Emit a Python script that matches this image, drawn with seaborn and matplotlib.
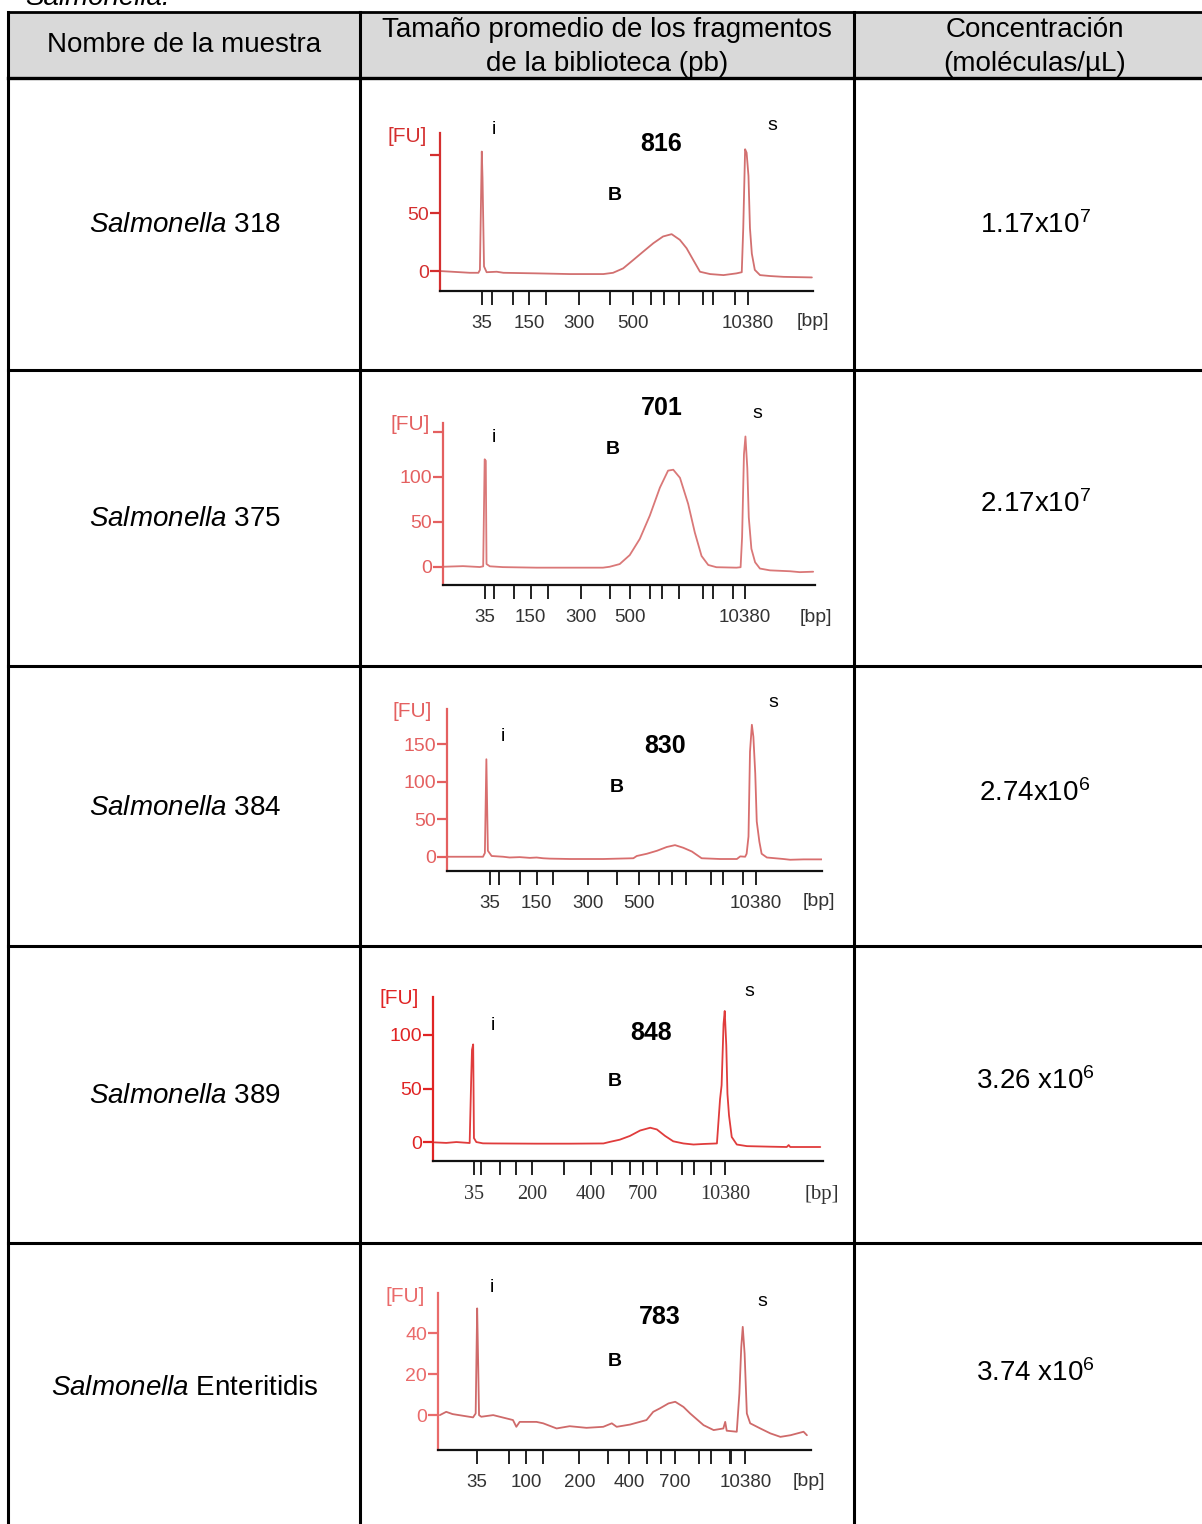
import matplotlib
matplotlib.use("Agg")
import matplotlib.pyplot as plt
import seaborn as sns
from matplotlib.lines import Line2D
from matplotlib.patches import Rectangle

# Datos de la tabla
sample_ids = ["318", "375", "384", "389", "Enteritidis"]
avg_sizes = ["816", "701", "830", "848", "783"]
concentrations = ["1.17x10$^{7}$", "2.17x10$^{7}$", "2.74x10$^{6}$",
                  "3.26 x10$^{6}$", "3.74 x10$^{6}$"]

# Electroferogramas (posicion de migracion normalizada 0-100, FU)
trace1_x = [0.0, 2.7, 8.0, 10.3, 10.7, 11.2, 11.4, 11.8, 12.5, 15.2, 17.0, 25.9, 34.8,
            43.8, 46.4, 49.1, 51.8, 54.5, 57.2, 59.8, 62.1, 64.3, 66.1, 67.9, 69.7,
            72.4, 76.0, 79.5, 80.9, 81.3, 81.8, 82.2, 82.7, 83.1, 83.6, 84.4, 85.8,
            88.5, 92.1, 99.7]
trace1_y = [0.0, -0.5, -1.5, -1.5, 1.0, 103, 80, 4, -1.0, -0.6, -1.5, -2.0, -2.6,
            -2.6, -1.5, 2.3, 9.5, 16.8, 24.0, 29.8, 31.8, 26.9, 19.7, 9.5, -0.6,
            -2.6, -3.5, -2.0, -1.0, 37, 105, 102, 82, 37, 15, 1.0, -3.5,
            -4.3, -5.0, -5.5]

trace2_x = [0.0, 5.4, 9.9, 10.8, 11.2, 11.5, 11.7, 12.6, 16.1, 25.1, 34.1, 43.0, 44.8,
            47.5, 50.2, 52.9, 55.6, 58.3, 60.5, 61.9, 63.7, 65.9, 67.7, 69.5, 71.3,
            73.5, 78.9, 80.0, 80.4, 80.9, 81.3, 81.8, 82.2, 82.9, 83.9, 85.2, 87.9,
            93.3, 95.9, 99.5]
trace2_y = [0.0, 0.7, -0.3, 0.5, 119.6, 118, 3, 0.5, -0.4, -1.0, -1.0, -1.0, 0.0,
            3, 13, 31, 57, 88, 107, 108, 99, 70, 38, 12, 2,
            -0.5, -1.0, -0.5, 33, 125, 145, 110, 55, 20, 5, -2, -4,
            -5, -6, -5.5]

trace3_x = [0.0, 6.1, 9.6, 10.1, 10.5, 10.9, 11.9, 15.0, 16.7, 19.4, 22.1, 23.9, 25.6,
            27.4, 32.8, 41.7, 49.7, 50.6, 53.3, 56.0, 58.6, 60.8, 63.0, 65.3, 67.9,
            72.8, 77.3, 78.2, 79.5, 79.9, 80.4, 80.8, 81.3, 81.7, 82.2, 82.6, 83.3,
            83.9, 85.3, 89.7, 91.5, 95.1, 100.0]
trace3_y = [0.0, 0.0, 0.0, 5, 130, 8, 1, 0, -1, -0.5, -1.5, -1, -2,
            -2.5, -3, -3, -2, 1, 4, 8, 13, 15.5, 12, 7, -2,
            -3, -3, 0.5, 0, 4, 27, 140, 176, 160, 111, 47, 20,
            4, -1, -3, -4, -3.5, -3.5]

trace4_x = [0.4, 3.4, 6.0, 9.4, 9.8, 10.0, 10.3, 10.5, 11.1, 12.8, 15.4, 26.5, 35.1,
            43.7, 45.4, 47.9, 50.5, 53.1, 55.7, 57.4, 59.5, 61.6, 64.2, 66.8, 69.3,
            72.8, 73.6, 74.0, 74.5, 74.8, 75.2, 75.5, 75.9, 76.6, 77.9, 80.5, 86.5,
            90.7, 91.2, 91.6, 99.3]
trace4_y = [0.0, -0.5, 0.3, -0.6, 60, 86, 91, 4, 0.3, -0.9, -1.0, -1.2, -1.2,
            -1.0, 0.5, 2.5, 6, 11, 13.6, 12, 6, 1, -1, -2, -1.5,
            -1, 40, 53, 110, 122, 90, 45, 25, 5, -2, -3.5, -4,
            -4.3, -2.5, -4.3, -4.3]

trace5_x = [0.5, 2.2, 3.9, 9.4, 10.1, 10.3, 10.5, 10.8, 11.0, 11.6, 14.8, 20.1, 21.0,
            21.9, 26.4, 28.2, 31.8, 35.3, 39.8, 44.3, 46.6, 47.9, 51.5, 55.9, 57.7,
            59.5, 61.8, 63.6, 65.8, 67.6, 71.2, 73.9, 76.5, 77.0, 77.4, 80.1, 80.8,
            81.3, 81.7, 82.2, 82.8, 83.7, 86.4, 89.1, 91.8, 94.5, 98.0, 98.9]
trace5_y = [0.0, 1.6, 0.5, -1.1, 0.8, 27, 52, 22, 0.0, -0.8, 0.0, -2.4, -5.7,
            -3.3, -3.3, -4.0, -6.5, -5.4, -6.2, -5.7, -4.0, -5.7, -4.6, -2.4, 1.6,
            3.3, 5.7, 6.5, 4.0, 0.8, -4.9, -7.3, -6.5, -3.3, -7.6, -8.1, 10.6,
            33, 43, 30, 0.8, -4.0, -6.5, -8.9, -10.6, -9.8, -8.1, -9.8]

# Marcas de la escalera (posicion normalizada) y etiquetas en pb
ladder_pos1 = [11.2, 13.9, 19.5, 23.9, 28.3, 37.3, 45.6, 51.8, 56.6, 60.1, 64.2, 70.4, 73.3, 79.1, 82.5]
ladder_pos2 = [11.2, 13.7, 19.0, 23.6, 28.1, 37.2, 45.0, 50.2, 55.6, 58.9, 63.5, 69.8, 72.6, 78.0, 81.2]
ladder_pos3 = [11.4, 13.8, 19.4, 23.9, 28.3, 37.7, 45.4, 51.3, 56.4, 59.9, 63.7, 70.3, 73.5, 79.0, 82.4]
ladder_pos4 = [10.5, 12.4, 17.1, 21.2, 25.4, 33.6, 40.5, 46.0, 50.5, 53.8, 57.4, 63.9, 66.9, 71.3, 74.9]
ladder_pos5 = [10.5, 19.1, 23.7, 28.2, 37.9, 45.7, 51.3, 56.1, 59.7, 63.6, 70.1, 73.2, 78.2, 78.6, 82.4]
ladder_lab_a = ["35", "", "", "150", "", "300", "", "500", "", "", "", "", "", "", "10380"]
ladder_lab_b = ["35", "", "", "", "200", "", "400", "", "", "700", "", "", "", "", "10380"]
ladder_lab_c = ["35", "", "100", "", "200", "", "400", "", "", "700", "", "", "", "", "10380"]

fu_ticks1 = [0, 50, 100]
fu_labels1 = ["0", "50", ""]
fu_ticks2 = [0, 50, 100, 150]
fu_labels2 = ["0", "50", "100", ""]
fu_ticks3 = [0, 50, 100, 150]
fu_labels3 = ["0", "50", "100", "150"]
fu_ticks4 = [0, 50, 100]
fu_labels4 = ["0", "50", "100"]
fu_ticks5 = [0, 20, 40]
fu_labels5 = ["0", "20", "40"]

sns.set_style("white")
plt.rcParams['font.family'] = ['Liberation Sans', 'DejaVu Sans']
plt.rcParams['text.color'] = 'black'
plt.rcParams['mathtext.fontset'] = 'custom'
plt.rcParams['mathtext.rm'] = 'Liberation Sans'
plt.rcParams['mathtext.it'] = 'Liberation Sans:italic'
plt.rcParams['mathtext.bf'] = 'Liberation Sans:bold'

W, H = 1202, 1524
fig = plt.figure(figsize=(W / 100, H / 100), dpi=100)


def fx(x):
    return x / W


def fy(y):
    return 1 - y / H


def hline(y, x0, x1, lw=2.2):
    fig.add_artist(Line2D([fx(x0), fx(x1)], [fy(y), fy(y)], color="black", lw=lw,
                          transform=fig.transFigure, solid_capstyle="projecting"))


def vline(x, y0, y1, lw=2.2):
    fig.add_artist(Line2D([fx(x), fx(x)], [fy(y0), fy(y1)], color="black", lw=lw,
                          transform=fig.transFigure, solid_capstyle="projecting"))


# cabecera gris
fig.add_artist(Rectangle((fx(8), fy(78)), fx(1202) - fx(8), fy(12) - fy(78),
                         transform=fig.transFigure, facecolor="#d9d9d9", edgecolor="none"))
hline(12, 8, 1202, lw=2.0)
hline(78, 8, 1202, lw=2.4)
for yy in [370, 666, 946, 1243]:
    hline(yy, 8, 1202)
vline(8, 12, 1530)
vline(360, 12, 1530)
vline(854, 12, 1530)

fig.text(fx(25), fy(5), "Salmonella.", fontsize=20, style="italic", va="baseline", ha="left")

fig.text(fx(184), fy(45), "Nombre de la muestra", fontsize=20, ha="center", va="center")
fig.text(fx(607), fy(47), "Tamaño promedio de los fragmentos\nde la biblioteca (pb)",
         fontsize=20, ha="center", va="center", linespacing=1.38)
fig.text(fx(1035), fy(47), "Concentración\n(moléculas/µL)",
         fontsize=20, ha="center", va="center", linespacing=1.38)

name_y = [225, 519, 808, 1096, 1388]
conc_y = [225, 504, 793, 1081, 1373]
for sid, ny, cy, conc in zip(sample_ids, name_y, conc_y, concentrations):
    fig.text(fx(185), fy(ny), r"$\mathit{Salmonella}$ " + sid, fontsize=20, ha="center", va="center")
    fig.text(fx(1035), fy(cy), conc, fontsize=20, ha="center", va="center")

# electroferogramas
traces = [(trace1_x, trace1_y), (trace2_x, trace2_y), (trace3_x, trace3_y),
          (trace4_x, trace4_y), (trace5_x, trace5_y)]
ladders = [(ladder_pos1, ladder_lab_a), (ladder_pos2, ladder_lab_a), (ladder_pos3, ladder_lab_a),
           (ladder_pos4, ladder_lab_b), (ladder_pos5, ladder_lab_c)]
fu_axes = [(fu_ticks1, fu_labels1), (fu_ticks2, fu_labels2), (fu_ticks3, fu_labels3),
           (fu_ticks4, fu_labels4), (fu_ticks5, fu_labels5)]
boxes = [(440, 133, 813, 291), (443, 423, 815, 585), (447, 709, 822, 871),
         (433, 997, 823, 1161), (438, 1293, 811, 1450)]
ylims = [(-17.2, 119), (-20.3, 160), (-19, 197), (-17.3, 135), (-17, 59.5)]
axis_red = ["#d42f2f", "#e46060", "#e46060", "#e02424", "#ea6b6b"]
line_red = ["#d27070", "#da7878", "#d86e6e", "#e03c3c", "#cf6a6a"]
xfonts = ["Liberation Sans", "Liberation Sans", "Liberation Sans",
          "Liberation Serif", "Liberation Sans"]
xsizes = [13.5, 13.5, 13.5, 14.5, 13.5]
fu_pos = [(407, 137), (410, 424), (412, 711), (399, 998), (405, 1296)]
bp_pos = [(813, 321), (816, 618), (819, 901), (822, 1194), (809, 1481)]
mark_pos = [
    [(494, 130), (661, 144), (615, 195), (772, 125)],
    [(494, 437), (662, 408), (613, 449), (757, 414)],
    [(503, 737), (665, 746), (617, 787), (773, 702)],
    [(493, 1025), (651, 1033), (615, 1081), (749, 991)],
    [(492, 1288), (660, 1317), (615, 1362), (762, 1301)],
]

for k in range(5):
    x0, y0, x1, y1 = boxes[k]
    ax = fig.add_axes([fx(x0), fy(y1), fx(x1) - fx(x0), fy(y0) - fy(y1)])
    ax.patch.set_alpha(0)
    tx, ty = traces[k]
    sns.lineplot(x=tx, y=ty, ax=ax, color=line_red[k], linewidth=1.3,
                 sort=False, estimator=None)
    ax.set_xlim(0, 100)
    ax.set_ylim(*ylims[k])
    for s in ["top", "right"]:
        ax.spines[s].set_visible(False)
    ax.spines["bottom"].set_color("#111111")
    ax.spines["bottom"].set_linewidth(1.6)
    ax.spines["left"].set_color(axis_red[k])
    ax.spines["left"].set_linewidth(1.6)
    pos, labs = ladders[k]
    ax.set_xticks(pos)
    ax.set_xticklabels(labs, fontsize=xsizes[k], color="#333333",
                       family=[xfonts[k], "DejaVu Sans"])
    ax.tick_params(axis="x", bottom=True, direction="out", length=10, width=1.4,
                   color="#222222", pad=7)
    yt, yl = fu_axes[k]
    ax.set_yticks(yt)
    ax.set_yticklabels(yl, fontsize=14, color=axis_red[k],
                       family=["Liberation Sans", "DejaVu Sans"])
    ax.tick_params(axis="y", left=True, direction="out", length=7, width=1.6,
                   color=axis_red[k], pad=1)
    ax.set_xlabel("")
    ax.set_ylabel("")

    fig.text(fx(fu_pos[k][0]), fy(fu_pos[k][1]), "[FU]", fontsize=15, color=axis_red[k],
             ha="center", va="center")
    fig.text(fx(bp_pos[k][0]), fy(bp_pos[k][1]), "[bp]", fontsize=xsizes[k] + 0.5,
             color="#333333", ha="center", va="center", family=[xfonts[k], "DejaVu Sans"])
    mi, mn, mb, ms = mark_pos[k]
    fig.text(fx(mi[0]), fy(mi[1]), "i", fontsize=14, ha="center", va="center")
    fig.text(fx(mn[0]), fy(mn[1]), avg_sizes[k], fontsize=18, fontweight="bold",
             ha="center", va="center")
    fig.text(fx(mb[0]), fy(mb[1]), "B", fontsize=14, fontweight="bold", ha="center", va="center")
    fig.text(fx(ms[0]), fy(ms[1]), "s", fontsize=14, ha="center", va="center")

fig.savefig("out.png", dpi=100)
